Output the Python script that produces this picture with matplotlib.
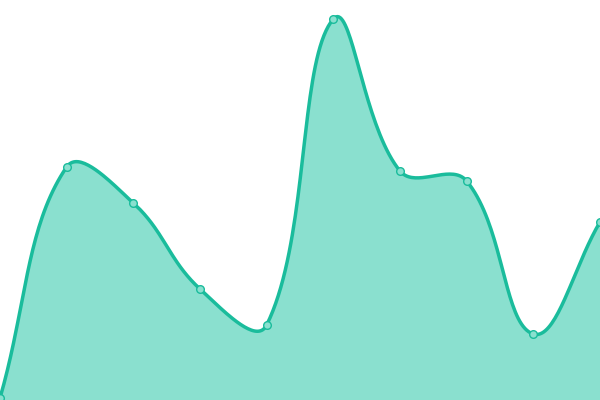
import matplotlib
matplotlib.use('agg')

import matplotlib.pyplot as plt
import numpy as np

labels = ['A', 'B', 'C', 'D', 'E', 'F', 'G', 'H', 'I', 'J']
values = [2, 233, 197, 111, 75, 381, 229, 219, 66, 178]

line_color = '#1abc9c'
fill_color = '#8ae0cf'


def spline_curve(px, py, tension=0.4, steps=40):
    # chart.js style bezier spline, computed in pixel space
    n = len(px)
    cp_prev = []
    cp_next = []
    for i in range(n):
        p0 = (px[max(i - 1, 0)], py[max(i - 1, 0)])
        p1 = (px[i], py[i])
        p2 = (px[min(i + 1, n - 1)], py[min(i + 1, n - 1)])
        d01 = np.hypot(p1[0] - p0[0], p1[1] - p0[1])
        d12 = np.hypot(p2[0] - p1[0], p2[1] - p1[1])
        s01 = d01 / (d01 + d12) if d01 + d12 else 0
        s12 = d12 / (d01 + d12) if d01 + d12 else 0
        fa, fb = tension * s01, tension * s12
        cp_prev.append((p1[0] - fa * (p2[0] - p0[0]), p1[1] - fa * (p2[1] - p0[1])))
        cp_next.append((p1[0] + fb * (p2[0] - p0[0]), p1[1] + fb * (p2[1] - p0[1])))
    xs, ys = [], []
    t = np.linspace(0, 1, steps)
    for i in range(n - 1):
        b0 = np.array([px[i], py[i]])
        b1 = np.array(cp_next[i])
        b2 = np.array(cp_prev[i + 1])
        b3 = np.array([px[i + 1], py[i + 1]])
        pts = ((1 - t)[:, None] ** 3 * b0 + 3 * ((1 - t) ** 2 * t)[:, None] * b1
               + 3 * ((1 - t) * t ** 2)[:, None] * b2 + (t ** 3)[:, None] * b3)
        xs.extend(pts[:, 0])
        ys.extend(pts[:, 1])
    return np.array(xs), np.array(ys)


fig = plt.figure(figsize=(6, 4), dpi=100)
ax = fig.add_axes([0, 0, 1, 1])
ax.set_xlim(0, len(values) - 1)
ax.set_ylim(0, 400)
ax.axis('off')

x = np.arange(len(values))
# convert to pixel space for the spline, then back
pix = ax.transData.transform(np.column_stack([x, values]))
sx, sy = spline_curve(pix[:, 0], pix[:, 1])
curve = ax.transData.inverted().transform(np.column_stack([sx, sy]))

ax.fill_between(curve[:, 0], curve[:, 1], 0, color=fill_color, linewidth=0)
ax.plot(curve[:, 0], curve[:, 1], color=line_color, linewidth=2.5, solid_capstyle='round')
ax.plot(x, values, 'o', markersize=5.5, markerfacecolor=fill_color,
        markeredgecolor=line_color, markeredgewidth=1)

fig.savefig('out.png', dpi=100)
